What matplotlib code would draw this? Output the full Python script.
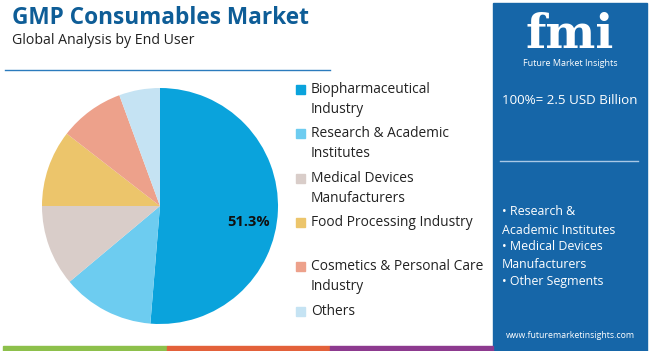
import matplotlib.pyplot as plt
from matplotlib.patches import Rectangle

# --- data ---
segments = ["Biopharmaceutical\nIndustry", "Research & Academic\nInstitutes",
            "Medical Devices\nManufacturers", "Food Processing Industry",
            "Cosmetics & Personal Care\nIndustry", "Others"]
shares = [51.3, 12.6, 11.1, 10.5, 8.9, 5.6]
colors = ["#0aa3dc", "#6dccf0", "#d9cdc9", "#ecc56b", "#eda18b", "#c5e3f3"]
market_size = "100%= 2.5 USD Billion"
other_points = ["• Research &\nAcademic Institutes", "• Medical Devices\nManufacturers", "• Other Segments"]

W, H = 650, 351
FONT = "Open Sans"
plt.rcParams['font.family'] = [FONT, 'DejaVu Sans']

fig = plt.figure(figsize=(W / 100, H / 100), dpi=100)
fig.patch.set_facecolor("white")

def fx(x):
    return x / W

def fy(y):
    return 1 - y / H

# --- title block ---
fig.text(fx(12), fy(18), "GMP Consumables Market", fontsize=16.3, fontweight="bold",
         color="#0e5d97", va="center", ha="left")
fig.text(fx(12), fy(40), "Global Analysis by End User", fontsize=10.2, color="#222222",
         va="center", ha="left")
fig.add_artist(plt.Line2D([fx(5), fx(330)], [fy(70), fy(70)], color="#2b7bbd", lw=1))

# --- pie ---
cx, cy, r = 160, 206, 118
ax = fig.add_axes([fx(cx - r), fy(cy + r), 2 * r / W, 2 * r / H])
wedges, _ = ax.pie(shares, colors=colors, startangle=90, counterclock=False,
                   radius=1, wedgeprops=dict(linewidth=0))
ax.set_xlim(-1, 1)
ax.set_ylim(-1, 1)
ax.set_aspect("auto")
ax.axis("off")
ax.text(0.75, -0.135, f"{shares[0]}%", fontsize=10.5, fontweight="bold",
        color="#111111", ha="center", va="center")

# --- legend ---
legend_y = [89, 133, 178, 222, 266, 311]
for lab, col, yy in zip(segments, colors, legend_y):
    fig.add_artist(Rectangle((fx(296), fy(yy + 4.5)), 9 / W, 9 / H, color=col,
                             transform=fig.transFigure))
    fig.text(fx(311), fy(yy - 7), lab, fontsize=9.9, color="#222222",
             va="top", ha="left", linespacing=1.45)

# --- right panel ---
fig.add_artist(Rectangle((fx(493), 0), (647 - 493) / W, fy(3), color="#1666a8",
                         transform=fig.transFigure))
fig.text(fx(570), fy(48), "fmi", fontsize=34, fontweight="bold", color="white",
         family="DejaVu Serif", ha="center", va="baseline")
fig.text(fx(570), fy(64), "Future Market Insights", fontsize=6.5, color="white",
         ha="center", va="center")
fig.text(fx(502), fy(101), market_size, fontsize=9.6, color="white",
         ha="left", va="center")
fig.add_artist(plt.Line2D([fx(500), fx(638)], [fy(161), fy(161)], color="#a9c8e6", lw=1))
yy = 205
for p in other_points:
    fig.text(fx(502), fy(yy), p, fontsize=8.9, color="white", ha="left", va="top",
             linespacing=1.55)
    yy += 35
fig.text(fx(570), fy(336), "www.futuremarketinsights.com", fontsize=6.3, color="white",
         ha="center", va="center")

# --- bottom strip ---
for x0, x1, c in [(3, 167, "#8dc04b"), (167, 330, "#e3613a"), (330, 493, "#8d3a8f")]:
    fig.add_artist(Rectangle((fx(x0), 0), (x1 - x0) / W, 5 / H, color=c,
                             transform=fig.transFigure))

fig.savefig("out.png", dpi=100)
